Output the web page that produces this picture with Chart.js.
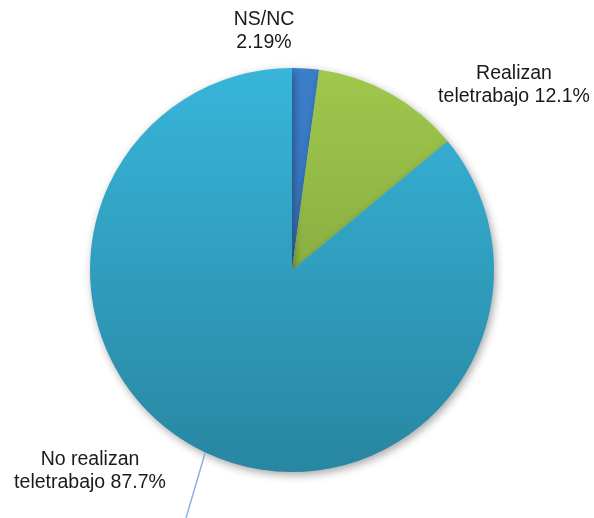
<!DOCTYPE html>
<html>
<head>
<meta charset="utf-8">
<script src="https://cdn.jsdelivr.net/npm/chart.js@4"></script>
<style>
  html, body { margin: 0; padding: 0; background: #fff; }
  #wrap { width: 594px; height: 518px; position: relative; }
</style>
</head>
<body>
<div id="wrap"><canvas id="pie"></canvas></div>
<script>
// Slices, in drawing order (clockwise from 12 o'clock)
const categories = ['NS/NC', 'Realizan teletrabajo', 'No realizan teletrabajo'];
const shares = [2.19, 12.1, 87.7];
// label text: first line(s) and the prefix put before the percentage
const label_lines = [['NS/NC'], ['Realizan'], ['No realizan']];
const label_prefix = ['', 'teletrabajo ', 'teletrabajo '];

// colour stops (top, bottom) for each slice
const top_colors = ['#3b7fcc', '#9fc84c', '#38b5da'];
const bottom_colors = ['#2f65a8', '#76963a', '#2886a1'];
// where each label block sits, and the leader line of the big slice
const label_pos = [{ x: 264, y: 20 }, { x: 514, y: 74 }, { x: 90, y: 460 }];
const line_height = 23;

const canvas = document.getElementById('pie');

function slice_gradient(context) {
    const chart = context.chart;
    const area = chart.chartArea;
    if (!area) return top_colors[context.dataIndex];
    const g = chart.ctx.createLinearGradient(0, area.top, 0, area.bottom);
    g.addColorStop(0, top_colors[context.dataIndex]);
    g.addColorStop(1, bottom_colors[context.dataIndex]);
    return g;
}

// soft shadow under the pie
const pie_shadow = {
    id: 'pieShadow',
    beforeDatasetsDraw(chart) {
        const ctx = chart.ctx;
        ctx.save();
        ctx.shadowColor = 'rgba(0, 0, 0, 0.35)';
        ctx.shadowBlur = 8;
        ctx.shadowOffsetX = 2;
        ctx.shadowOffsetY = 3;
    },
    afterDatasetsDraw(chart) {
        chart.ctx.restore();
    }
};

// outside labels plus the leader line for the big slice
const outside_labels = {
    id: 'outsideLabels',
    afterDraw(chart) {
        const ctx = chart.ctx;
        const arcs = chart.getDatasetMeta(0).data;
        ctx.save();

        // leader line from the edge of the large slice down to its label
        const big = arcs[2];
        const a = Math.atan2(453 - big.y, 205 - big.x);
        ctx.strokeStyle = '#8db3e2';
        ctx.lineWidth = 1.5;
        ctx.beginPath();
        ctx.moveTo(big.x + Math.cos(a) * big.outerRadius, big.y + Math.sin(a) * big.outerRadius);
        ctx.lineTo(186, 518);
        ctx.stroke();

        ctx.fillStyle = '#1a1a1a';
        ctx.font = '19.5px "Liberation Sans", Arial, sans-serif';
        ctx.textAlign = 'center';
        ctx.textBaseline = 'middle';
        shares.forEach((v, i) => {
            const lines = label_lines[i].concat([label_prefix[i] + v + '%']);
            lines.forEach((t, k) => {
                ctx.fillText(t, label_pos[i].x, label_pos[i].y + k * line_height);
            });
        });
        ctx.restore();
    }
};

const data = {
    labels: categories,
    datasets: [{
        data: shares,
        backgroundColor: slice_gradient,
        borderWidth: 0
    }]
};

const options = {
    animation: false,
    responsive: true,
    maintainAspectRatio: false,
    layout: { padding: { top: 68, bottom: 46, left: 90, right: 100 } },
    plugins: {
        legend: { display: false },
        tooltip: { enabled: false }
    }
};

new Chart(canvas, { type: 'pie', data: data, options: options, plugins: [pie_shadow, outside_labels] });
</script>
</body>
</html>
